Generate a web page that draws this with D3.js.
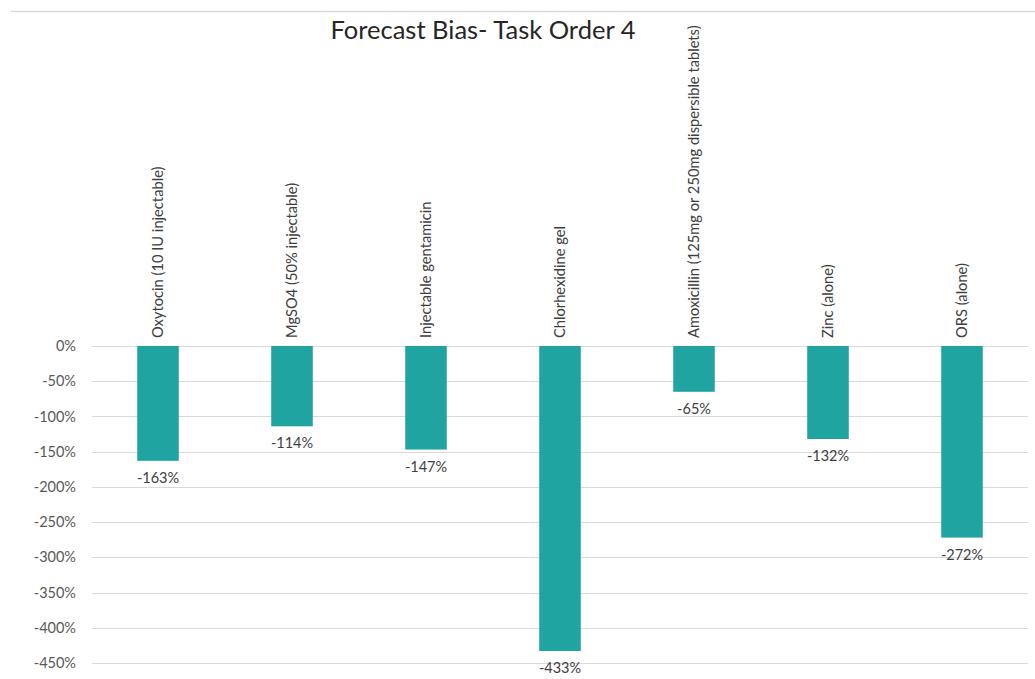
<!DOCTYPE html>
<html>
<head>
<meta charset="utf-8">
<script src="https://cdn.jsdelivr.net/npm/d3@7"></script>
<style>
  body { margin: 0; background: #fff; }
  svg { font-family: "Lato", "Open Sans", sans-serif; }
</style>
</head>
<body>
<svg id="chart"></svg>
<script>
// chart data
const categories = [
    "Oxytocin (10 IU injectable)",
    "MgSO4 (50% injectable)",
    "Injectable gentamicin",
    "Chlorhexidine gel",
    "Amoxicillin (125mg or 250mg dispersible tablets)",
    "Zinc (alone)",
    "ORS (alone)"
];
const bias = [-163, -114, -147, -433, -65, -132, -272];
const yTicks = [0, -50, -100, -150, -200, -250, -300, -350, -400, -450];
const title = "Forecast Bias- Task Order 4";

function draw() {
    let width = 1035;
    let height = 679;

    let svg = d3.select("#chart")
        .attr("width", width)
        .attr("height", height);

    // outer chart border (only the top edge is visible)
    svg.append("line")
        .attr("x1", 11).attr("x2", width)
        .attr("y1", 11.5).attr("y2", 11.5)
        .style("stroke", "#d9d9d9")
        .style("stroke-width", 1.5);

    let x = d3.scaleBand()
        .domain(categories)
        .range([91, 1029])
        .paddingInner(0.69)
        .paddingOuter(0.345);

    let y = d3.scaleLinear()
        .domain([0, -450])
        .range([346, 663]);

    // gridlines
    svg.append("g")
        .selectAll("line")
        .data(yTicks)
        .enter()
        .append("line")
        .attr("x1", 92)
        .attr("x2", 1028)
        .attr("y1", d => Math.round(y(d)) + 0.5)
        .attr("y2", d => Math.round(y(d)) + 0.5)
        .style("stroke", "#d9d9d9")
        .style("stroke-width", 1.2);

    // y axis labels
    svg.append("g")
        .selectAll("text")
        .data(yTicks)
        .enter()
        .append("text")
        .attr("x", 76)
        .attr("y", d => y(d))
        .attr("dy", "0.35em")
        .attr("text-anchor", "end")
        .style("font-size", "14.5px")
        .style("fill", "#595959")
        .text(d => d + "%");

    // bars
    svg.append("g")
        .selectAll("rect")
        .data(bias)
        .enter()
        .append("rect")
        .attr("x", (d, i) => x(categories[i]))
        .attr("width", x.bandwidth())
        .attr("y", y(0))
        .attr("height", d => y(d) - y(0))
        .style("fill", "#1fa4a1");

    // value labels under each bar
    svg.append("g")
        .selectAll("text")
        .data(bias)
        .enter()
        .append("text")
        .attr("x", (d, i) => x(categories[i]) + x.bandwidth() / 2)
        .attr("y", d => y(d) + 17)
        .attr("dy", "0.35em")
        .attr("text-anchor", "middle")
        .style("font-size", "14.5px")
        .style("fill", "#404040")
        .text(d => d + "%");

    // rotated category labels above the zero line
    svg.append("g")
        .selectAll("text")
        .data(categories)
        .enter()
        .append("text")
        .attr("transform", d => `translate(${x(d) + x.bandwidth() / 2},${y(0) - 8}) rotate(-90)`)
        .attr("dy", "0.35em")
        .attr("text-anchor", "start")
        .style("font-size", "14.7px")
        .style("fill", "#404040")
        .text(d => d);

    // title
    svg.append("text")
        .attr("x", 483)
        .attr("y", 30)
        .attr("dy", "0.35em")
        .attr("text-anchor", "middle")
        .style("font-size", "25.5px")
        .style("fill", "#262626")
        .text(title);
}
draw();
</script>
</body>
</html>
